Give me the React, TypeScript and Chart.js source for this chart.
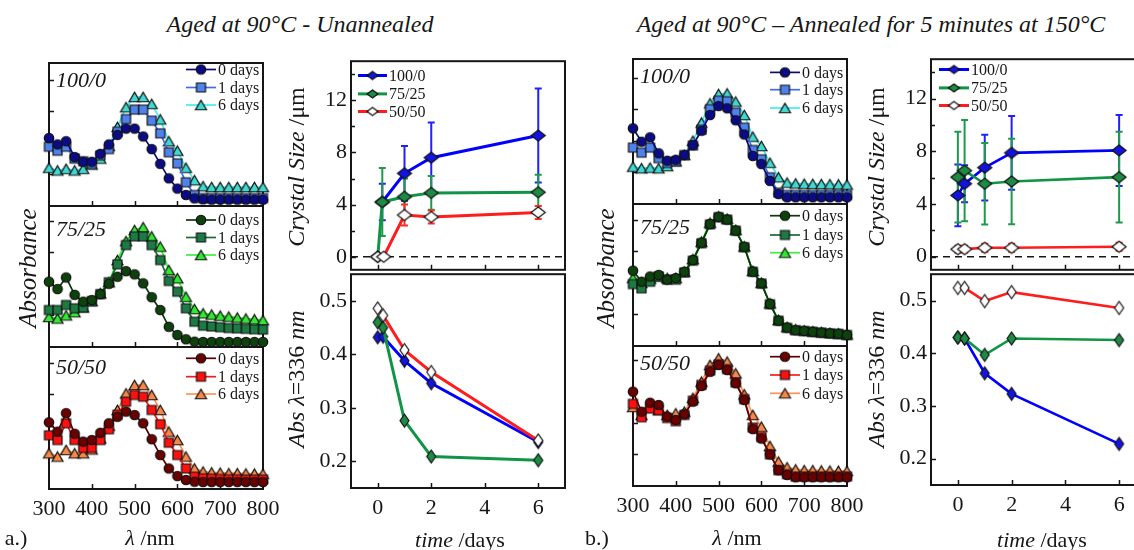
import React, { useEffect, useRef } from 'react';
import { Chart, registerables } from 'chart.js';

Chart.register(...registerables);

const FONT = "'Liberation Serif', 'Times New Roman', Times, serif";
const INK = '#161616';

// ---------------- DATA ----------------
const wavelengths = [300, 320, 340, 360, 380, 400, 420, 440, 460, 480, 500, 520, 540, 560, 580, 600, 620, 640, 660, 680, 700, 720, 740, 760, 780, 800];
const wavelengthTicks = [300, 400, 500, 600, 700, 800];
const spectraYTicks = [0.2, 0.4, 0.6, 0.8];
const spectraLegend = ['0 days', '1 days', '6 days'];
const blendNames = ['100/0', '75/25', '50/50'];

// (a) unannealed spectra, arbitrary absorbance units
const a100Day0 = [0.43, 0.39, 0.41, 0.31, 0.28, 0.28, 0.33, 0.39, 0.45, 0.49, 0.49, 0.44, 0.36, 0.267, 0.175, 0.11, 0.07, 0.048, 0.042, 0.04, 0.04, 0.04, 0.04, 0.04, 0.04, 0.04];
const a100Day1 = [0.375, 0.35, 0.375, 0.30, 0.283, 0.267, 0.32, 0.36, 0.47, 0.55, 0.61, 0.61, 0.54, 0.46, 0.34, 0.27, 0.15, 0.07, 0.05, 0.05, 0.05, 0.05, 0.05, 0.05, 0.05, 0.05];
const a100Day6 = [0.242, 0.225, 0.235, 0.225, 0.235, 0.262, 0.30, 0.38, 0.50, 0.625, 0.69, 0.69, 0.646, 0.548, 0.41, 0.35, 0.242, 0.163, 0.125, 0.12, 0.12, 0.12, 0.12, 0.12, 0.12, 0.12];
const a75Day0 = [0.413, 0.367, 0.44, 0.33, 0.287, 0.297, 0.335, 0.40, 0.445, 0.48, 0.46, 0.403, 0.315, 0.234, 0.128, 0.076, 0.049, 0.034, 0.032, 0.032, 0.032, 0.032, 0.032, 0.032, 0.032, 0.032];
const a75Day1 = [0.234, 0.234, 0.266, 0.245, 0.25, 0.29, 0.335, 0.41, 0.523, 0.645, 0.70, 0.70, 0.645, 0.55, 0.418, 0.35, 0.245, 0.16, 0.135, 0.13, 0.125, 0.12, 0.118, 0.115, 0.112, 0.11];
const a75Day6 = [0.19, 0.18, 0.20, 0.22, 0.25, 0.29, 0.34, 0.41, 0.55, 0.67, 0.74, 0.758, 0.70, 0.635, 0.487, 0.435, 0.318, 0.24, 0.213, 0.205, 0.198, 0.192, 0.186, 0.18, 0.175, 0.17];
const a50Day0 = [0.422, 0.363, 0.48, 0.35, 0.30, 0.31, 0.356, 0.416, 0.457, 0.49, 0.468, 0.416, 0.315, 0.215, 0.13, 0.082, 0.057, 0.046, 0.044, 0.044, 0.044, 0.044, 0.044, 0.044, 0.044, 0.044];
const a50Day1 = [0.34, 0.31, 0.416, 0.31, 0.26, 0.26, 0.31, 0.378, 0.47, 0.553, 0.595, 0.584, 0.50, 0.41, 0.293, 0.215, 0.13, 0.078, 0.068, 0.066, 0.064, 0.062, 0.062, 0.06, 0.06, 0.06];
const a50Day6 = [0.226, 0.205, 0.247, 0.226, 0.226, 0.25, 0.32, 0.40, 0.50, 0.605, 0.658, 0.658, 0.595, 0.50, 0.363, 0.31, 0.205, 0.13, 0.11, 0.105, 0.103, 0.10, 0.10, 0.098, 0.097, 0.096];

// (b) annealed spectra
const b100Day0 = [0.479, 0.394, 0.422, 0.321, 0.274, 0.28, 0.31, 0.373, 0.464, 0.563, 0.62, 0.606, 0.53, 0.44, 0.304, 0.253, 0.146, 0.063, 0.042, 0.042, 0.042, 0.042, 0.042, 0.042, 0.042, 0.042];
const b100Day1 = [0.357, 0.325, 0.357, 0.29, 0.26, 0.27, 0.31, 0.37, 0.47, 0.60, 0.654, 0.65, 0.578, 0.483, 0.342, 0.283, 0.169, 0.072, 0.057, 0.057, 0.057, 0.057, 0.057, 0.057, 0.057, 0.057];
const b100Day6 = [0.236, 0.226, 0.23, 0.226, 0.24, 0.27, 0.31, 0.40, 0.515, 0.637, 0.696, 0.70, 0.648, 0.563, 0.426, 0.367, 0.261, 0.169, 0.135, 0.13, 0.128, 0.127, 0.126, 0.125, 0.124, 0.123];
const b75Day0 = [0.477, 0.407, 0.44, 0.45, 0.42, 0.43, 0.47, 0.544, 0.654, 0.772, 0.818, 0.80, 0.73, 0.628, 0.47, 0.397, 0.266, 0.16, 0.116, 0.10, 0.095, 0.09, 0.085, 0.08, 0.078, 0.07];
const b75Day1 = [0.392, 0.365, 0.407, 0.44, 0.42, 0.42, 0.465, 0.54, 0.65, 0.77, 0.815, 0.80, 0.73, 0.625, 0.47, 0.395, 0.265, 0.16, 0.115, 0.10, 0.095, 0.09, 0.085, 0.08, 0.076, 0.07];
const b75Day6 = [0.43, 0.40, 0.425, 0.44, 0.43, 0.43, 0.47, 0.55, 0.66, 0.78, 0.82, 0.805, 0.735, 0.63, 0.475, 0.40, 0.27, 0.165, 0.12, 0.105, 0.098, 0.092, 0.087, 0.082, 0.078, 0.073];
const b50Day0 = [0.597, 0.47, 0.527, 0.513, 0.439, 0.418, 0.454, 0.534, 0.633, 0.723, 0.766, 0.734, 0.65, 0.544, 0.36, 0.30, 0.20, 0.10, 0.07, 0.055, 0.055, 0.055, 0.055, 0.055, 0.055, 0.055];
const b50Day1 = [0.52, 0.435, 0.49, 0.48, 0.43, 0.41, 0.45, 0.54, 0.64, 0.73, 0.77, 0.74, 0.655, 0.55, 0.37, 0.31, 0.20, 0.10, 0.075, 0.06, 0.06, 0.06, 0.06, 0.06, 0.06, 0.06];
const b50Day6 = [0.50, 0.45, 0.50, 0.48, 0.45, 0.46, 0.47, 0.557, 0.66, 0.766, 0.808, 0.787, 0.713, 0.58, 0.45, 0.375, 0.253, 0.154, 0.118, 0.105, 0.10, 0.10, 0.098, 0.097, 0.096, 0.095];

// time series
const timeTicks = [0, 2, 4, 6];
const crystalTicks = [0, 4, 8, 12];
const crystalMinorTicks = [2, 6, 10, 14];
const absTicks = [0.2, 0.3, 0.4, 0.5];

const crystATimes100 = [0.17, 1, 2, 6];
const crystA100 = [4.2, 6.4, 7.6, 9.3];
const crystA100Err = [1.4, 2.1, 2.7, 3.6];
const crystATimes75 = [0, 0.17, 1, 2, 6];
const crystA75 = [0, 4.2, 4.6, 4.9, 4.95];
const crystA75Err = [0, 2.6, 1.4, 1.3, 1.35];
const crystATimes50 = [0, 0.22, 1, 2, 6];
const crystA50 = [0, 0, 3.2, 3.05, 3.4];
const crystA50Err = [0, 0, 0.8, 0.5, 0.5];

const absATimes = [0, 0.2, 1, 2, 6];
const absA100 = [0.432, 0.433, 0.388, 0.346, 0.236];
const absA75 = [0.46, 0.45, 0.276, 0.209, 0.202];
const absA50 = [0.486, 0.473, 0.408, 0.367, 0.239];

const bTimes = [0, 0.25, 1, 2, 6];
const crystB100 = [4.65, 5.54, 6.76, 7.88, 8.07];
const crystB100Err = [2.35, 1.4, 2.5, 2.8, 2.7];
const crystB75 = [6.04, 6.53, 5.54, 5.71, 6.04];
const crystB75Err = [3.45, 3.85, 3.1, 3.25, 3.45];
const crystB50 = [0.57, 0.57, 0.67, 0.67, 0.75];
const crystB50Err = [0.25, 0.25, 0.3, 0.3, 0.3];

const absB100 = [0.43, 0.428, 0.362, 0.323, 0.228];
const absB75 = [0.43, 0.428, 0.397, 0.428, 0.425];
const absB50 = [0.524, 0.524, 0.499, 0.516, 0.486];

// ---------------- STYLES ----------------
type Shape = 'circle' | 'square' | 'triangle' | 'diamond';
interface SStyle { line: string; fill: string; shape: Shape; }

const blueSet: SStyle[] = [
  { line: '#0a0a7a', fill: '#0b0b88', shape: 'circle' },
  { line: '#3f6fe8', fill: '#4f82ea', shape: 'square' },
  { line: '#3ff0f0', fill: '#40d8d0', shape: 'triangle' },
];
const greenSet: SStyle[] = [
  { line: '#0b3a0b', fill: '#0d420d', shape: 'circle' },
  { line: '#1a6a3a', fill: '#1e7a44', shape: 'square' },
  { line: '#3cf03c', fill: '#33e833', shape: 'triangle' },
];
const redSet: SStyle[] = [
  { line: '#5c0000', fill: '#6a0000', shape: 'circle' },
  { line: '#ff1a1a', fill: '#ff1010', shape: 'square' },
  { line: '#ff9455', fill: '#f5884a', shape: 'triangle' },
];
const blendStyles = [
  { line: '#0000ff', fill: '#1414e0', err: '#2020ff' },
  { line: '#129446', fill: '#1d8a45', err: '#1f9a4c' },
  { line: '#ff1c1c', fill: '#ffffff', err: '#ff2a2a' },
];

const markerCache: Record<string, HTMLCanvasElement> = {};
function marker(shape: Shape, fill: string, w: number, h: number, stroke = '#101010', lw = 1.2): HTMLCanvasElement {
  const key = [shape, fill, w, h, stroke, lw].join('|');
  if (markerCache[key]) return markerCache[key];
  const c = document.createElement('canvas');
  const pad = 2;
  c.width = Math.ceil(w + pad * 2);
  c.height = Math.ceil(h + pad * 2);
  const g = c.getContext('2d')!;
  const cx = c.width / 2, cy = c.height / 2;
  g.beginPath();
  if (shape === 'circle') g.ellipse(cx, cy, w / 2, h / 2, 0, 0, Math.PI * 2);
  else if (shape === 'square') g.rect(cx - w / 2, cy - h / 2, w, h);
  else if (shape === 'triangle') {
    g.moveTo(cx, cy - h / 2); g.lineTo(cx + w / 2, cy + h / 2); g.lineTo(cx - w / 2, cy + h / 2); g.closePath();
  } else {
    g.moveTo(cx, cy - h / 2); g.lineTo(cx + w / 2, cy); g.lineTo(cx, cy + h / 2); g.lineTo(cx - w / 2, cy); g.closePath();
  }
  g.fillStyle = fill; g.fill();
  g.strokeStyle = stroke; g.lineWidth = lw; g.stroke();
  markerCache[key] = c;
  return c;
}
function spectraMarker(st: SStyle) {
  if (st.shape === 'triangle') return marker('triangle', st.fill, 11, 9.5);
  if (st.shape === 'square') return marker('square', st.fill, 9, 9);
  return marker('circle', st.fill, 9.5, 9.5);
}

// ---------------- PANEL CONFIG ----------------
interface LegendSpec { x0: number; x1: number; tx: number; rows: number[]; items: number[]; labels: string[]; font: number; markers: HTMLCanvasElement[]; lw: number; }
interface PanelSpec {
  x: number; y: number; w: number; h: number;
  ml: number; mr: number; mt: number; mb: number;
  xMin: number; xMax: number; xTicks: number[]; xLabels: boolean;
  yMin: number; yMax: number; yTicks: number[]; yLabels: boolean;
  yMinor?: number[];
  tickLen: number;
  datasets: any[];
  legend?: LegendSpec;
  tag?: { text: string; dx: number; dy: number };
}

function buildConfig(s: PanelSpec): any {
  const framePlugin = {
    id: 'frame',
    beforeDatasetsDraw(chart: any) {
      const { ctx, chartArea: a, scales } = chart;
      ctx.save();
      // error bars
      chart.data.datasets.forEach((ds: any) => {
        if (!ds.errors) return;
        ctx.strokeStyle = ds.errColor; ctx.lineWidth = 2;
        ds.data.forEach((p: any, i: number) => {
          const e = ds.errors[i];
          if (!e) return;
          const px = scales.x.getPixelForValue(p.x);
          const top = scales.y.getPixelForValue(p.y + e);
          const bot = scales.y.getPixelForValue(p.y - e);
          ctx.beginPath();
          ctx.moveTo(px, top); ctx.lineTo(px, bot);
          ctx.moveTo(px - 3.5, top); ctx.lineTo(px + 3.5, top);
          ctx.moveTo(px - 3.5, bot); ctx.lineTo(px + 3.5, bot);
          ctx.stroke();
        });
      });
      ctx.strokeStyle = INK; ctx.lineWidth = 2;
      ctx.strokeRect(a.left, a.top, a.right - a.left, a.bottom - a.top);
      ctx.lineWidth = 1.5;
      ctx.beginPath();
      s.xTicks.forEach((v) => {
        if (v <= s.xMin || v >= s.xMax) return;
        const px = Math.round(scales.x.getPixelForValue(v)) + 0.5;
        ctx.moveTo(px, a.bottom); ctx.lineTo(px, a.bottom - s.tickLen);
      });
      s.yTicks.forEach((v) => {
        if (v <= s.yMin || v >= s.yMax) return;
        const py = Math.round(scales.y.getPixelForValue(v)) + 0.5;
        ctx.moveTo(a.left, py); ctx.lineTo(a.left + s.tickLen, py);
      });
      (s.yMinor || []).forEach((v) => {
        if (v <= s.yMin || v >= s.yMax) return;
        const py = Math.round(scales.y.getPixelForValue(v)) + 0.5;
        ctx.moveTo(a.left, py); ctx.lineTo(a.left + s.tickLen - 1, py);
      });
      ctx.stroke();
      ctx.restore();
    },
    afterDatasetsDraw(chart: any) {
      const { ctx, chartArea: a } = chart;
      ctx.save();
      if (s.legend) {
        const L = s.legend;
        L.items.forEach((di, k) => {
          const ds = chart.data.datasets[di];
          const yy = a.top + L.rows[k];
          ctx.strokeStyle = ds.borderColor; ctx.lineWidth = L.lw;
          ctx.beginPath(); ctx.moveTo(a.left + L.x0, yy); ctx.lineTo(a.left + L.x1, yy); ctx.stroke();
          const m = L.markers[k];
          ctx.drawImage(m, a.left + (L.x0 + L.x1) / 2 - m.width / 2, yy - m.height / 2);
          ctx.fillStyle = INK; ctx.font = `${L.font}px ${FONT}`;
          ctx.textBaseline = 'middle'; ctx.textAlign = 'left';
          ctx.fillText(L.labels[k], a.left + L.tx, yy + 1);
        });
      }
      if (s.tag) {
        ctx.fillStyle = INK; ctx.font = `italic 22px ${FONT}`;
        ctx.textBaseline = 'middle'; ctx.textAlign = 'left';
        ctx.fillText(s.tag.text, a.left + s.tag.dx, a.top + s.tag.dy);
      }
      ctx.restore();
    },
  };

  const tickFont = { family: FONT, size: 22 };
  return {
    type: 'line',
    data: { datasets: s.datasets },
    options: {
      animation: false,
      responsive: false,
      devicePixelRatio: 1,
      events: [],
      layout: { padding: { left: s.yLabels ? 0 : s.ml, right: s.mr, top: s.mt, bottom: s.xLabels ? 0 : s.mb } },
      scales: {
        x: {
          type: 'linear', min: s.xMin, max: s.xMax, display: s.xLabels,
          afterBuildTicks: (sc: any) => { sc.ticks = s.xTicks.map((v) => ({ value: v })); },
          afterFit: (sc: any) => { sc.height = s.xLabels ? s.mb : 0; },
          grid: { display: false, drawTicks: false }, border: { display: false },
          ticks: { autoSkip: false, maxRotation: 0, minRotation: 0, padding: 7, color: INK, font: tickFont, callback: (v: any) => String(v) },
        },
        y: {
          type: 'linear', min: s.yMin, max: s.yMax, display: s.yLabels,
          afterBuildTicks: (sc: any) => { sc.ticks = s.yTicks.map((v) => ({ value: v })); },
          afterFit: (sc: any) => { sc.width = s.yLabels ? s.ml : 0; },
          grid: { display: false, drawTicks: false }, border: { display: false },
          ticks: { autoSkip: false, padding: 4, color: INK, font: tickFont, callback: (v: any) => String(v) },
        },
      },
      plugins: { legend: { display: false }, tooltip: { enabled: false } },
    },
    plugins: [framePlugin],
  };
}

function spectraDatasets(series: number[][], styles: SStyle[]) {
  return series.map((vals, i) => ({
    data: wavelengths.map((w, j) => ({ x: w, y: vals[j] })),
    borderColor: styles[i].line,
    borderWidth: 1.7,
    pointStyle: spectraMarker(styles[i]),
    pointRadius: 5,
    clip: false,
    tension: 0,
  }));
}

function spectraPanel(x: number, y: number, h: number, series: number[][], styles: SStyle[], name: string, tagDy: number, rows: number[], bottom: boolean): PanelSpec {
  return {
    x, y, w: 214, h,
    ml: 25, mr: 25, mt: 12, mb: bottom ? 45 : 12,
    xMin: 300, xMax: 800, xTicks: wavelengthTicks, xLabels: bottom,
    yMin: 0, yMax: h / 158, yTicks: spectraYTicks, yLabels: false,
    tickLen: 5,
    datasets: spectraDatasets(series, styles),
    legend: { x0: 137, x1: 167, tx: 169, rows, items: [0, 1, 2], labels: spectraLegend, font: 16, markers: styles.map(spectraMarker), lw: 1.7 },
    tag: { text: name, dx: 7, dy: tagDy },
  };
}

function blendDatasets(times: number[][], vals: number[][], errs: (number[] | null)[], mw: number, mh: number, lw: number) {
  return vals.map((v, i) => ({
    data: times[i].map((t, j) => ({ x: t, y: v[j] })),
    borderColor: blendStyles[i].line,
    borderWidth: lw,
    pointStyle: marker('diamond', blendStyles[i].fill, mw, mh),
    pointRadius: 7,
    clip: false,
    tension: 0,
    order: 3 - i,
    errors: errs[i] || undefined,
    errColor: blendStyles[i].err,
  }));
}

function zeroLine() {
  return { data: [{ x: -1, y: 0 }, { x: 7, y: 0 }], borderColor: INK, borderWidth: 1.5, borderDash: [7, 5], pointRadius: 0, order: 5, clip: false };
}

function crystalPanel(x: number, y: number, w: number, h: number, times: number[][], vals: number[][], errs: number[][], rows: number[], lx: number[], lw: number): PanelSpec {
  const ds: any[] = blendDatasets(times, vals, errs, 14, 11, lw);
  ds.push(zeroLine());
  return {
    x, y, w, h, ml: 55, mr: 25, mt: 15, mb: 15,
    xMin: -1, xMax: 7, xTicks: timeTicks, xLabels: false,
    yMin: -1, yMax: 15, yTicks: crystalTicks, yLabels: true, yMinor: crystalMinorTicks,
    tickLen: 5, datasets: ds,
    legend: { x0: lx[0], x1: lx[1], tx: lx[2], rows, items: [0, 1, 2], labels: blendNames, font: 16, markers: blendStyles.map((b) => marker('diamond', b.fill, 11, 8)), lw: 3 },
  };
}

function absPanel(x: number, y: number, w: number, h: number, times: number[], vals: number[][], lw: number): PanelSpec {
  return {
    x, y, w, h, ml: 55, mr: 25, mt: 15, mb: 48,
    xMin: -1, xMax: 7, xTicks: timeTicks, xLabels: true,
    yMin: 0.15, yMax: 0.55, yTicks: absTicks, yLabels: true,
    tickLen: 5,
    datasets: blendDatasets([times, times, times], vals, [null, null, null], 9, 13, lw),
  };
}

const panels: PanelSpec[] = [
  spectraPanel(49, 63, 143, [a100Day0, a100Day1, a100Day6], blueSet, '100/0', 18, [6.5, 24.5, 42], false),
  spectraPanel(49, 206, 141, [a75Day0, a75Day1, a75Day6], greenSet, '75/25', 24, [14, 31.5, 49], false),
  spectraPanel(49, 347, 142, [a50Day0, a50Day1, a50Day6], redSet, '50/50', 21, [11.3, 29.7, 47], true),
  spectraPanel(633, 59, 145, [b100Day0, b100Day1, b100Day6], blueSet, '100/0', 18, [13.4, 30.7, 49], false),
  spectraPanel(633, 204, 142, [b75Day0, b75Day1, b75Day6], greenSet, '75/25', 24, [11.7, 31, 48.7], false),
  spectraPanel(633, 346, 140, [b50Day0, b50Day1, b50Day6], redSet, '50/50', 18, [10.7, 29, 47.3], true),
  crystalPanel(351, 59, 214, 213, [crystATimes100, crystATimes75, crystATimes50], [crystA100, crystA75, crystA50], [crystA100Err, crystA75Err, crystA50Err], [14.3, 32.7, 50.3], [7, 36, 38], 3),
  absPanel(351, 272, 214, 216, absATimes, [absA100, absA75, absA50], 3),
  crystalPanel(931, 57, 215, 215, [bTimes, bTimes, bTimes], [crystB100, crystB75, crystB50], [crystB100Err, crystB75Err, crystB50Err], [10.3, 28.7, 46.3], [8, 38, 40], 2.6),
  absPanel(931, 272, 215, 213, bTimes, [absB100, absB75, absB50], 2.6),
];

function ChartPanel({ spec }: { spec: PanelSpec }) {
  const ref = useRef<HTMLCanvasElement>(null);
  const W = spec.w + spec.ml + spec.mr;
  const H = spec.h + spec.mt + spec.mb;
  useEffect(() => {
    const chart = new Chart(ref.current as HTMLCanvasElement, buildConfig(spec));
    return () => chart.destroy();
  }, [spec]);
  return (
    <canvas ref={ref} width={W} height={H}
      style={{ position: 'absolute', left: spec.x - spec.ml, top: spec.y - spec.mt, width: W, height: H }} />
  );
}

function Txt({ x, y, size, rot, children, italic }: any) {
  return (
    <div style={{
      position: 'absolute', left: x, top: y, transform: `translate(-50%, -50%)${rot ? ' rotate(-90deg)' : ''}`,
      whiteSpace: 'nowrap', fontFamily: FONT, fontSize: size, color: INK, lineHeight: 1, fontStyle: italic ? 'italic' : 'normal',
    }}>{children}</div>
  );
}

export default function App() {
  return (
    <div style={{ position: 'fixed', left: 0, top: 0, width: 1134, height: 550, overflow: 'hidden', background: '#fff' }}>
      {panels.map((p, i) => <ChartPanel key={i} spec={p} />)}
      <Txt x={300} y={24} size={24} italic>Aged at 90°C - Unannealed</Txt>
      <Txt x={871} y={24} size={24} italic>Aged at 90°C – Annealed for 5 minutes at 150°C</Txt>
      <Txt x={27} y={268} size={25} rot italic>Absorbance</Txt>
      <Txt x={605} y={268} size={25} rot italic>Absorbance</Txt>
      <Txt x={296} y={167} size={24} rot><i>Crystal Size</i> /μm</Txt>
      <Txt x={876} y={167} size={24} rot><i>Crystal Size</i> /μm</Txt>
      <Txt x={296} y={379} size={24} rot><i>Abs λ</i>=336 <i>nm</i></Txt>
      <Txt x={876} y={379} size={24} rot><i>Abs λ</i>=336 <i>nm</i></Txt>
      <Txt x={16} y={538} size={22}>a.)</Txt>
      <Txt x={597} y={538} size={22}>b.)</Txt>
      <Txt x={150} y={538} size={22}><i>λ</i> /nm</Txt>
      <Txt x={737} y={538} size={22}><i>λ</i> /nm</Txt>
      <Txt x={460} y={540} size={22}><i>time</i> /days</Txt>
      <Txt x={1042} y={540} size={22}><i>time</i> /days</Txt>
    </div>
  );
}
